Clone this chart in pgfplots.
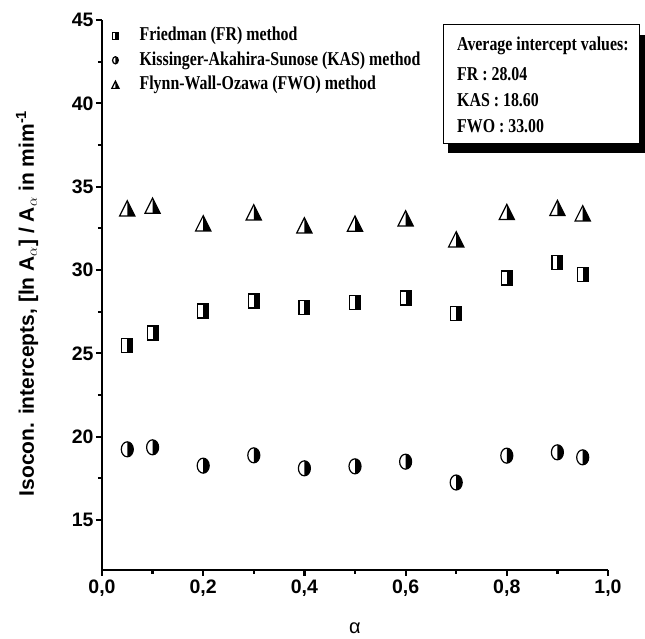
\documentclass[border=0pt]{standalone}
\usepackage{fontspec}
\setmainfont{Liberation Sans}
\newfontfamily\tnr[FakeStretch=0.81]{Liberation Serif}
\usepackage{pgfplots}
\pgfplotsset{compat=1.18}

% half-filled marks (left white, right black)
\pgfdeclareplotmark{hsq}{%
  \pgfpathrectangle{\pgfqpoint{0pt}{-\pgfplotmarksize}}{\pgfqpoint{0.78\pgfplotmarksize}{2\pgfplotmarksize}}%
  \pgfusepathqfill
  \pgfpathrectangle{\pgfqpoint{-0.78\pgfplotmarksize}{-\pgfplotmarksize}}{\pgfqpoint{1.56\pgfplotmarksize}{2\pgfplotmarksize}}%
  \pgfusepathqstroke}
\pgfdeclareplotmark{hci}{%
  \pgfpathmoveto{\pgfqpoint{0pt}{\pgfplotmarksize}}%
  \pgfpatharc{90}{-90}{0.8\pgfplotmarksize and \pgfplotmarksize}%
  \pgfpathclose
  \pgfusepathqfill
  \pgfpathellipse{\pgfpointorigin}{\pgfqpoint{0.8\pgfplotmarksize}{0pt}}{\pgfqpoint{0pt}{\pgfplotmarksize}}%
  \pgfusepathqstroke}
\pgfdeclareplotmark{htr}{%
  \pgfpathmoveto{\pgfqpoint{0pt}{\pgfplotmarksize}}%
  \pgfpathlineto{\pgfqpoint{\pgfplotmarksize}{-\pgfplotmarksize}}%
  \pgfpathlineto{\pgfqpoint{0pt}{-\pgfplotmarksize}}%
  \pgfpathclose
  \pgfusepathqfill
  \pgfpathmoveto{\pgfqpoint{0pt}{\pgfplotmarksize}}%
  \pgfpathlineto{\pgfqpoint{\pgfplotmarksize}{-\pgfplotmarksize}}%
  \pgfpathlineto{\pgfqpoint{-\pgfplotmarksize}{-\pgfplotmarksize}}%
  \pgfpathclose
  \pgfusepathqstroke}

\begin{document}
\begin{tikzpicture}
\begin{axis}[
  name=ax,
  scale only axis, width=506pt, height=550pt,
  xmin=0, xmax=1, ymin=12, ymax=45,
  clip=false,
  axis lines=left,
  axis line style={-, line width=2.6pt},
  tick align=outside,
  major tick length=6pt, minor tick length=4pt,
  tick style={black, line width=2.2pt},
  xtick={0,0.2,0.4,0.6,0.8,1.0},
  minor x tick num=1,
  ytick={15,20,25,30,35,40,45},
  minor y tick num=1,
  /pgf/number format/assume math mode=true,
  xticklabel style={/pgf/number format/.cd, use comma, fixed, fixed zerofill, precision=1},
  ticklabel style={font=\bfseries\fontsize{19.5}{21}\selectfont},
  yticklabel style={xshift=1pt},
  xlabel={\fontsize{20}{22}\selectfont α},
  xlabel style={at={(axis description cs:0.5,-0.1055)}, anchor=center},
  ylabel={\bfseries\fontsize{21}{23}\selectfont Isocon. intercepts, [ln A$_{\alpha}$] / A$_{\alpha}$ in mim\textsuperscript{-1}},
  ylabel style={at={(axis description cs:-0.148,0.485)}, anchor=center},
  legend cell align=left,
  legend style={draw=none, fill=none, at={(axis description cs:0.006,0.988)}, anchor=north west,
    font=\tnr\bfseries\fontsize{19.6}{21}\selectfont, row sep=6.5pt, inner sep=0pt,
    nodes={inner xsep=2pt, inner ysep=0pt, text height=14pt, text depth=4pt}},
  legend image code/.code={\path (0pt,0pt) (32pt,0pt); \draw[#1, mark size=3.6pt] plot coordinates {(10pt,0pt)};},
]
\addplot[only marks, mark=hsq, mark size=7pt, mark options={solid, draw=black, fill=black, line width=1.2pt}]
  coordinates {(0.05,25.46) (0.1,26.22) (0.2,27.54) (0.3,28.14) (0.4,27.76) (0.5,28.04) (0.6,28.32) (0.7,27.40) (0.8,29.52) (0.9,30.44) (0.95,29.74)};
\addlegendentry{Friedman (FR) method}
\addplot[only marks, mark=hci, mark size=7.5pt, mark options={solid, draw=black, fill=black, line width=1.2pt}]
  coordinates {(0.05,19.24) (0.1,19.36) (0.2,18.26) (0.3,18.88) (0.4,18.10) (0.5,18.22) (0.6,18.50) (0.7,17.25) (0.8,18.86) (0.9,19.06) (0.95,18.76)};
\addlegendentry{Kissinger-Akahira-Sunose (KAS) method}
\addplot[only marks, mark=htr, mark size=7.6pt, mark options={solid, draw=black, fill=black, line width=1.2pt}]
  coordinates {(0.05,33.70) (0.1,33.86) (0.2,32.80) (0.3,33.46) (0.4,32.68) (0.5,32.78) (0.6,33.10) (0.7,31.84) (0.8,33.48) (0.9,33.72) (0.95,33.40)};
\addlegendentry{Flynn-Wall-Ozawa (FWO) method}

% info box with shadow
\fill[black] (rel axis cs:0.684,0.973) rectangle (rel axis cs:1.073,0.758);
\draw[fill=white, line width=1pt] (rel axis cs:0.674,0.991) rectangle (rel axis cs:1.063,0.776);
\begin{scope}[every node/.style={anchor=base west, inner sep=0pt, font=\tnr\bfseries\fontsize{19.6}{21}\selectfont}]
\node at (rel axis cs:0.7016,0.945) {Average intercept values:};
\node at (rel axis cs:0.7016,0.8907) {FR : 28.04};
\node at (rel axis cs:0.7016,0.8435) {KAS : 18.60};
\node at (rel axis cs:0.7016,0.796) {FWO : 33.00};
\end{scope}
\end{axis}
\pgfresetboundingbox
\path[use as bounding box] (ax.south west) ++(-102pt,-69pt) rectangle ++(645pt,639pt);
\end{tikzpicture}
\end{document}
